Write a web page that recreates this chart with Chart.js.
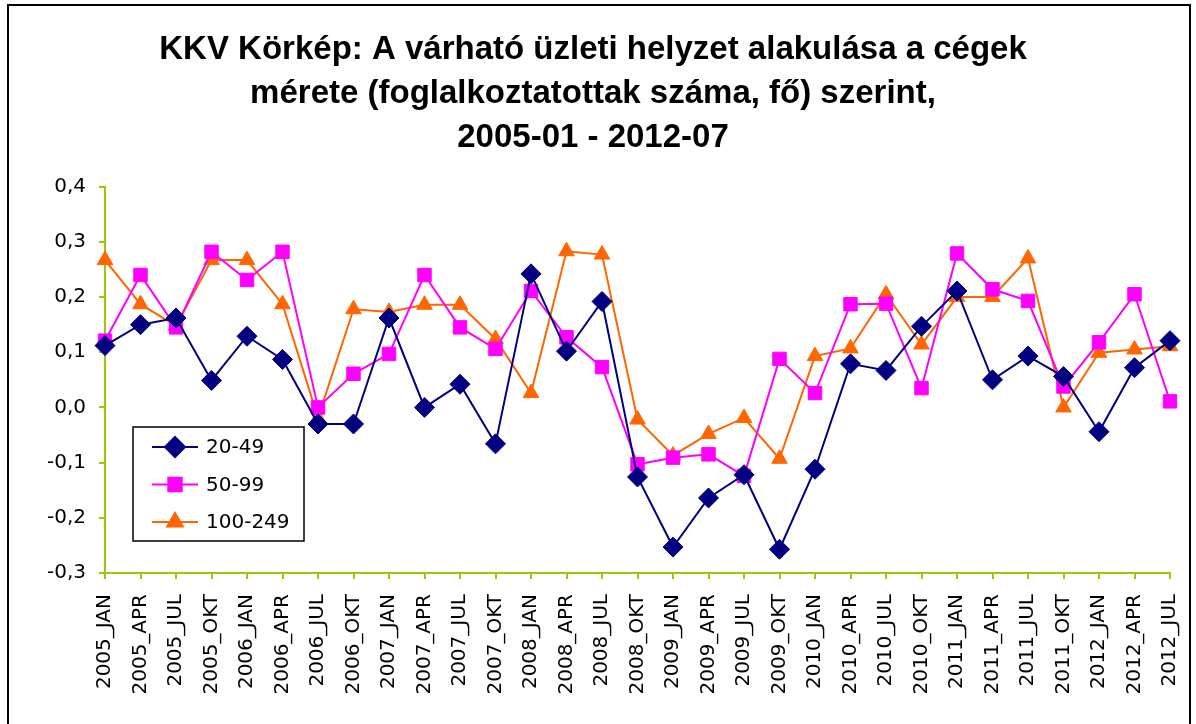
<!DOCTYPE html>
<html>
<head>
<meta charset="utf-8">
<script src="https://cdn.jsdelivr.net/npm/chart.js@4"></script>
<style>
  html, body { margin: 0; padding: 0; background: #fff; }
  #doboz { width: 1196px; height: 724px; }
</style>
</head>
<body>
<div id="doboz"><canvas id="grafikon" width="1196" height="724"></canvas></div>
<script>
// ---- adatok
const honapok = ["JAN", "APR", "JUL", "OKT"];
const idoszakok = [];
for (let ev = 2005; ev <= 2012; ev++) {
  honapok.forEach((h) => {
    if (ev === 2012 && h === "OKT") return;
    idoszakok.push(ev + "_" + h);
  });
}

const kicsi = [0.112, 0.150, 0.162, 0.049, 0.129, 0.087, -0.030, -0.030, 0.162, 0.000,
  0.042, -0.066, 0.242, 0.102, 0.192, -0.126, -0.253, -0.164, -0.122, -0.257,
  -0.112, 0.079, 0.067, 0.147, 0.211, 0.050, 0.093, 0.056, -0.044, 0.072, 0.121];
const kozepes = [0.121, 0.240, 0.145, 0.282, 0.231, 0.282, 0.000, 0.061, 0.097, 0.240,
  0.145, 0.106, 0.211, 0.127, 0.073, -0.103, -0.091, -0.085, -0.124, 0.088,
  0.026, 0.187, 0.188, 0.035, 0.279, 0.214, 0.193, 0.038, 0.118, 0.205, 0.011];
const nagyobb = [0.267, 0.187, 0.148, 0.267, 0.267, 0.187, -0.019, 0.178, 0.173, 0.186,
  0.186, 0.124, 0.026, 0.283, 0.277, -0.022, -0.087, -0.048, -0.019, -0.093,
  0.093, 0.107, 0.205, 0.114, 0.200, 0.200, 0.270, 0.000, 0.099, 0.105, 0.111];

const sorozatNevek = ["20-49", "50-99", "100-249"];
const yTickek = [-0.3, -0.2, -0.1, 0.0, 0.1, 0.2, 0.3, 0.4];
const cim = [
  "KKV Körkép: A várható üzleti helyzet alakulása a cégek",
  "mérete (foglalkoztatottak száma, fő) szerint,",
  "2005-01 - 2012-07",
];

const zold = "#99CC00";

function vesszo(v) {
  return (Math.round(v * 10) / 10).toFixed(1).replace(".", ",");
}

// keret a diagram körül
const keret = {
  id: "keret",
  afterDraw(chart) {
    const c = chart.ctx;
    c.save();
    c.strokeStyle = "#000";
    c.lineWidth = 2;
    c.strokeRect(8, 5, 1182, 740);
    c.restore();
  },
};

// jelmagyarázat a rajzterületen belül
const jelmagyarazat = {
  id: "jelmagyarazat",
  afterDraw(chart) {
    const c = chart.ctx;
    const x0 = 133, y0 = 427, w = 171, h = 114;
    c.save();
    c.fillStyle = "#fff";
    c.fillRect(x0, y0, w, h);
    c.strokeStyle = "#000";
    c.lineWidth = 1.5;
    c.strokeRect(x0, y0, w, h);
    chart.data.datasets.forEach((ds, i) => {
      const y = 447 + i * 37.5;
      c.strokeStyle = ds.borderColor;
      c.lineWidth = 2;
      c.beginPath();
      c.moveTo(152, y);
      c.lineTo(198, y);
      c.stroke();
      c.fillStyle = ds.backgroundColor;
      c.strokeStyle = ds.borderColor;
      Chart.helpers.drawPoint(c, {
        pointStyle: ds.pointStyle,
        radius: ds.pointRadius,
        rotation: 0,
        borderWidth: 1,
      }, 175, y);
      c.fillStyle = "#000";
      c.font = "20px 'DejaVu Sans'";
      c.textBaseline = "middle";
      c.fillText(ds.label, 206, y + 1);
    });
    c.restore();
  },
};

const ctx = document.getElementById("grafikon").getContext("2d");
const grafikon = new Chart(ctx, {
  type: "line",
  data: {
    labels: idoszakok,
    datasets: [
      {
        label: sorozatNevek[0],
        data: kicsi,
        borderColor: "#000080",
        backgroundColor: "#000080",
        borderWidth: 2,
        pointStyle: "rectRot",
        pointRadius: 10,
        pointBorderWidth: 1,
        tension: 0,
      },
      {
        label: sorozatNevek[1],
        data: kozepes,
        borderColor: "#FF00FF",
        backgroundColor: "#FF00FF",
        borderWidth: 2,
        pointStyle: "rect",
        pointRadius: 9.5,
        pointBorderWidth: 1,
        tension: 0,
      },
      {
        label: sorozatNevek[2],
        data: nagyobb,
        borderColor: "#FF6600",
        backgroundColor: "#FF6600",
        borderWidth: 2,
        pointStyle: "triangle",
        pointRadius: 9,
        pointBorderWidth: 1,
        tension: 0,
      },
    ],
  },
  options: {
    responsive: false,
    animation: false,
    layout: { padding: { top: 0, left: 16, right: 26, bottom: 0 } },
    plugins: {
      legend: { display: false },
      tooltip: { enabled: false },
      title: {
        display: true,
        text: cim,
        color: "#000",
        font: { family: "'Liberation Sans'", size: 33, weight: "bold", lineHeight: 1.33 },
        padding: { top: 28, bottom: 27 },
      },
    },
    scales: {
      x: {
        offset: false,
        grid: {
          display: true,
          drawOnChartArea: false,
          drawTicks: true,
          tickLength: 6,
          color: zold,
          lineWidth: 2,
        },
        border: { display: true, color: zold, width: 2 },
        ticks: {
          autoSkip: false,
          maxRotation: 90,
          minRotation: 90,
          color: "#000",
          padding: 15,
          font: { family: "'DejaVu Sans'", size: 20 },
        },
        afterFit(scale) {
          scale.height = 151;
          scale.paddingLeft = 0;
          scale.paddingRight = 0;
        },
      },
      y: {
        min: -0.3,
        max: 0.4,
        afterBuildTicks(scale) {
          scale.ticks = yTickek.map((v) => ({ value: v }));
        },
        grid: {
          display: true,
          drawOnChartArea: false,
          drawTicks: true,
          tickLength: 6,
          color: zold,
          lineWidth: 2,
        },
        border: { display: true, color: zold, width: 2 },
        ticks: {
          color: "#000",
          padding: 13,
          font: { family: "'DejaVu Sans'", size: 20 },
          callback: (v) => vesszo(v),
        },
        afterFit(scale) {
          scale.width = 89;
          scale.paddingTop = 0;
          scale.paddingBottom = 0;
        },
      },
    },
  },
  plugins: [keret, jelmagyarazat],
});
</script>
</body>
</html>
